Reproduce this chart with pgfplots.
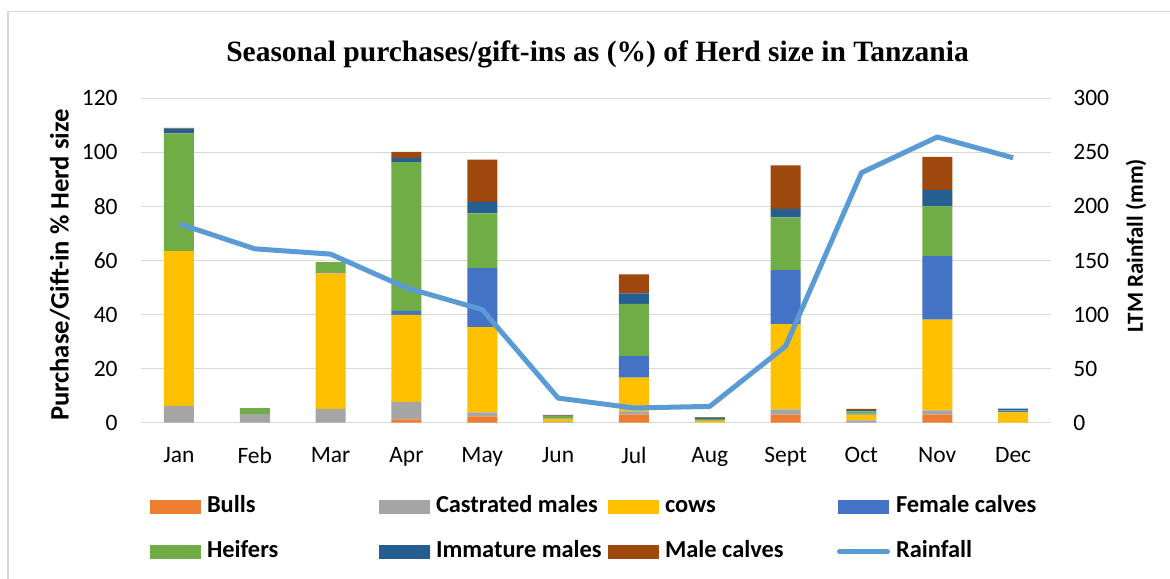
\documentclass[border=0pt]{standalone}
\usepackage{pgfplots}
\usepackage{pgfplotstable}
\pgfplotsset{compat=1.18}
\usepackage{fontspec}
\setmainfont{Carlito}
\newfontfamily\titlefont{Liberation Serif}
\definecolor{cBulls}{HTML}{ED7D31}
\definecolor{cCastr}{HTML}{A5A5A5}
\definecolor{cCows}{HTML}{FFC000}
\definecolor{cFcal}{HTML}{4472C4}
\definecolor{cHeif}{HTML}{70AD47}
\definecolor{cImm}{HTML}{255E91}
\definecolor{cMcal}{HTML}{9E480E}
\definecolor{cRain}{HTML}{5B9BD5}
\definecolor{gridc}{HTML}{D9D9D9}

\pgfplotstableread{
x bulls castr cows fcalves heifers imm mcalves rain
0  0   6.2 57.3 0    43.5 1.8 0.3  184
1  0   3.2 0    0    2.2  0   0    160.8
2  0   5.1 50.2 0.3  3.8  0   0    155.9
3  1.2 6.5 32.2 1.5  55.0 1.6 2.2  124.7
4  2.3 1.5 31.6 21.8 20.2 4.3 15.6 104.6
5  0   0.3 1.2  0.3  0.6  0.2 0.3  22.8
6  3.0 1.2 12.5 7.9  19.4 3.8 7.1  13.6
7  0   0   0.8  0.2  0.4  0.5 0.2  15.1
8  3.0 1.9 31.6 19.9 19.6 3.1 16.1 70.7
9  0   0.9 2.1  0.4  0.8  0.5 0.4  231.2
10 3.0 1.6 33.5 23.5 18.4 6.0 12.3 264.2
11 0   0   3.8  0.6  0.2  0.6 0    245
}\datatable

\pgfplotsset{mybarlegend/.style={legend image code/.code={\fill[##1] (0pt,-3.5pt) rectangle (25.5pt,3.5pt);}}}

\begin{document}
\begin{tikzpicture}
\useasboundingbox (0,0) rectangle (585pt,-289pt);
\draw[color=gridc, line width=0.75pt] (4pt,-295pt) -- (4pt,-5.85pt) -- (590pt,-5.85pt);
\node[anchor=base, font=\titlefont\bfseries\fontsize{14.75}{17}\selectfont] at (298.75pt,-30.5pt) {Seasonal purchases/gift-ins as (\%) of Herd size in Tanzania};
\begin{axis}[
  at={(70.5pt,-211.35pt)}, anchor=south west,
  scale only axis, width=455pt, height=162.2pt,
  xmin=-0.5, xmax=11.5, ymin=0, ymax=120,
  ybar stacked, bar width=15pt,
  xtick={0,...,11},
  xticklabels={Jan,Feb,Mar,Apr,May,Jun,Jul,Aug,Sept,Oct,Nov,Dec},
  ytick={0,20,...,120},
  ymajorgrids, grid style={gridc, line width=0.75pt},
  axis line style={draw=none}, major tick length=0pt,
  tick label style={font=\fontsize{11.75}{14}\selectfont},
  /pgf/number format/assume math mode=true,
  yticklabel style={inner sep=0pt, xshift=-11.5pt},
  xticklabel style={inner sep=0pt, yshift=-12pt},
  ylabel={Purchase/Gift-in \% Herd size},
  ylabel style={at={(axis description cs:-0.089,0.486)}, anchor=center, font=\bfseries\fontsize{13.3}{15}\selectfont},
  legend columns=4,
  legend cell align=left,
  legend style={draw=none, fill=none, at={(axis description cs:0.0099,-0.222)}, anchor=north west,
    inner sep=0pt, outer sep=0pt, row sep=10.5pt,
    font=\bfseries\fontsize{12.2}{13}\selectfont,
    nodes={inner sep=0pt, text height=9pt, text depth=3pt},
    /tikz/every odd column/.append style={column sep=3pt}},
]
\addplot[fill=cBulls, draw=none, mybarlegend] table[x=x,y=bulls]{\datatable};
\addlegendentry{\makebox[86pt][l]{Bulls}}
\addplot[fill=cCastr, draw=none, mybarlegend] table[x=x,y=castr]{\datatable};
\addlegendentry{\makebox[86pt][l]{Castrated males}}
\addplot[fill=cCows, draw=none, mybarlegend] table[x=x,y=cows]{\datatable};
\addlegendentry{\makebox[86pt][l]{cows}}
\addplot[fill=cFcal, draw=none, mybarlegend] table[x=x,y=fcalves]{\datatable};
\addlegendentry{\makebox[86pt][l]{Female calves}}
\addplot[fill=cHeif, draw=none, mybarlegend] table[x=x,y=heifers]{\datatable};
\addlegendentry{\makebox[86pt][l]{Heifers}}
\addplot[fill=cImm, draw=none, mybarlegend] table[x=x,y=imm]{\datatable};
\addlegendentry{\makebox[86pt][l]{Immature males}}
\addplot[fill=cMcal, draw=none, mybarlegend] table[x=x,y=mcalves]{\datatable};
\addlegendentry{\makebox[86pt][l]{Male calves}}
\addlegendimage{legend image code/.code={\draw[cRain, line width=2.5pt, line cap=round] (1pt,0pt) -- (25pt,0pt);}}
\addlegendentry{\makebox[86pt][l]{Rainfall}}
\end{axis}
\begin{axis}[
  at={(70.5pt,-211.35pt)}, anchor=south west,
  scale only axis, width=455pt, height=162.2pt,
  xmin=-0.5, xmax=11.5, ymin=0, ymax=300,
  axis y line*=right, axis x line=none,
  axis line style={draw=none}, major tick length=0pt,
  ytick={0,50,...,300},
  tick label style={font=\fontsize{11.75}{14}\selectfont},
  /pgf/number format/assume math mode=true,
  yticklabel style={inner sep=0pt, xshift=11pt},
  ylabel={LTM Rainfall (mm)},
  ylabel style={at={(axis description cs:1.0934,0.546)}, anchor=center, font=\bfseries\fontsize{11.5}{14}\selectfont},
]
\addplot[cRain, line width=2.5pt, line join=round, mark=none] table[x=x,y=rain]{\datatable};
\end{axis}
\end{tikzpicture}
\end{document}
